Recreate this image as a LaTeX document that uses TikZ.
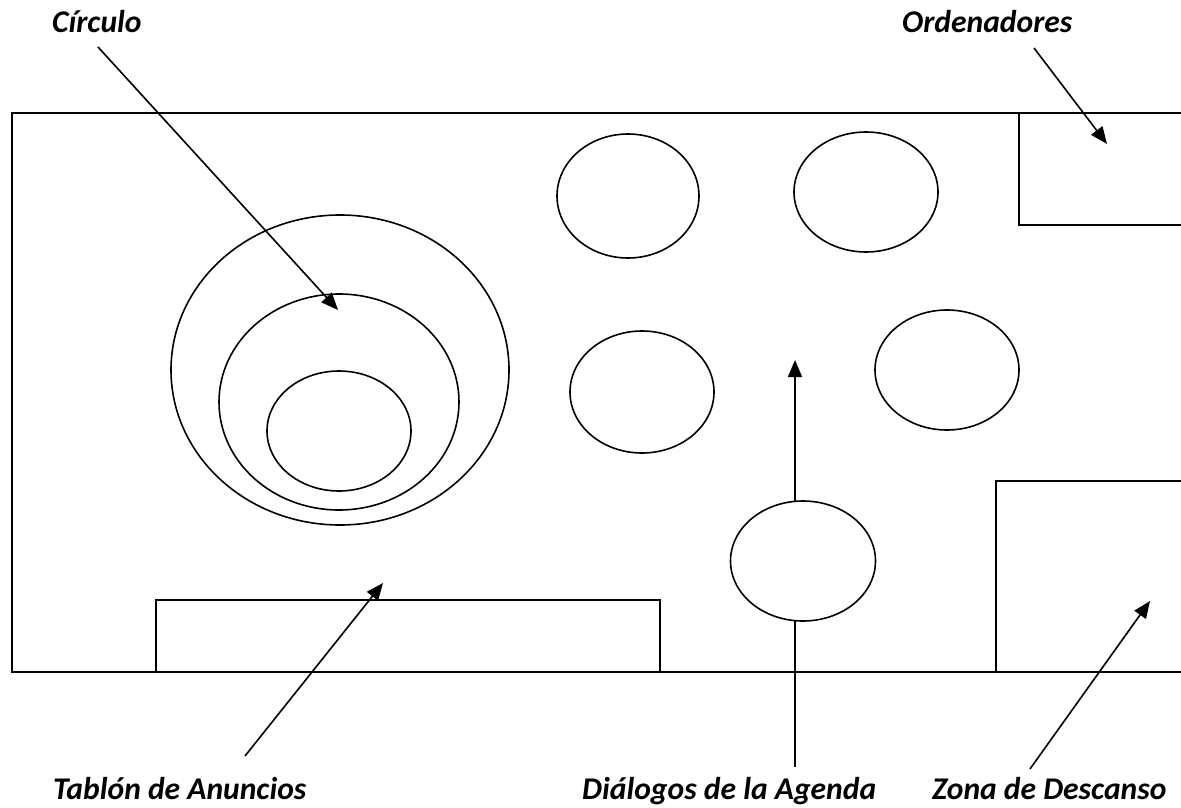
\documentclass[tikz,border=0pt]{standalone}
\usepackage{fontspec}
\setmainfont{Carlito}
\usetikzlibrary{arrows.meta,shapes.geometric}
\begin{document}
\begin{tikzpicture}[x=1pt,y=-1pt,
  wall/.style={line width=1.6pt},
  tbl/.style={draw,line width=1.6pt,fill=white},
  lbl/.style={font=\fontsize{31.6}{36}\selectfont\bfseries\itshape,inner sep=0pt,anchor=base west},
  ptr/.style={line width=1.6pt,-{Triangle[length=17pt,width=14pt]}}]
\useasboundingbox (0,0) rectangle (1181,808);
% labels
\node[lbl] (circ) at (52,33) {Círculo};
\node[lbl] (orde) at (902,33) {Ordenadores};
\node[lbl] (tabl) at (53,799) {Tablón de Anuncios};
\node[lbl] (dial) at (582,799) {Diálogos de la Agenda};
\node[lbl] (zona) at (932,799) {Zona de Descanso};
% tips
\coordinate (circT) at (338,310);
\coordinate (ordeT) at (1107,144);
\coordinate (tablT) at (383,583);
\coordinate (dialT) at (795,360);
\coordinate (zonaT) at (1150,601);
\coordinate (circS) at (98,47);
\coordinate (ordeS) at (1034,48);
\coordinate (tablS) at (245,756);
\coordinate (dialS) at (795,767);
\coordinate (zonaS) at (1030,769);
% room
\draw[wall] (1181,113) -- (12,113) -- (12,672) -- (1181,672);
\draw[wall] (1181,113) -- (1019,113) -- (1019,225) -- (1181,225);
\draw[wall] (1181,481) -- (996,481) -- (996,672);
\draw[wall] (156,672) -- (156,600) -- (660,600) -- (660,672);
% dialogue arrow behind its table
\draw[ptr] (dialS) -- (dialT);
% tables
\draw[tbl] (340,370) ellipse [x radius=169, y radius=155];
\draw[tbl] (339,402) ellipse [x radius=120, y radius=108];
\draw[tbl] (339,431) ellipse [x radius=72, y radius=60];
\draw[tbl] (628,196) ellipse [x radius=71, y radius=62];
\draw[tbl] (866,192) ellipse [x radius=72, y radius=60];
\draw[tbl] (642,392) ellipse [x radius=72, y radius=61];
\draw[tbl] (947,370) ellipse [x radius=72, y radius=60];
\node[tbl,ellipse,minimum width=145pt,minimum height=120pt,inner sep=0pt] (dtab) at (803,561) {};
% pointers
\draw[ptr] (circS) -- (circT);
\draw[ptr] (ordeS) -- (ordeT);
\draw[ptr] (tablS) -- (tablT);
\draw[ptr] (zonaS) -- (zonaT);
\end{tikzpicture}
\end{document}
